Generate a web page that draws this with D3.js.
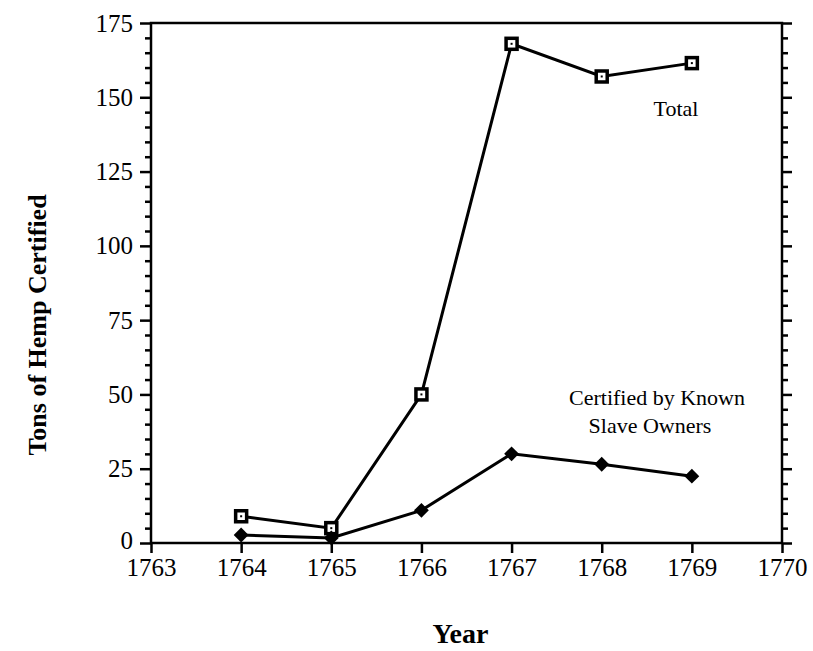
<!DOCTYPE html>
<html>
<head>
<meta charset="utf-8">
<script src="https://cdn.jsdelivr.net/npm/d3@7"></script>
<style>
  body { margin: 0; background: #fff; }
  text { font-family: "Liberation Serif", "Times New Roman", serif; fill: #000; }
</style>
</head>
<body>
<div id="vis"></div>
<script>
// data
const years = [1764, 1765, 1766, 1767, 1768, 1769]
const totalTons = [9, 5, 50, 168, 157, 161.5]
const slaveOwnerTons = [2.7, 1.7, 11, 30, 26.5, 22.5]
const yTicks = [0, 25, 50, 75, 100, 125, 150, 175]
const xTicks = [1763, 1764, 1765, 1766, 1767, 1768, 1769, 1770]

const W = 813, H = 651
const margin = { top: 23, right: 31, bottom: 108, left: 151 }
const width = W - margin.left - margin.right
const height = H - margin.top - margin.bottom

const svg = d3.select('#vis').append('svg')
  .attr('width', W).attr('height', H)
  .append('g')
  .attr('transform', `translate(${margin.left},${margin.top})`)

const x = d3.scaleLinear().domain([1763, 1770]).range([0, width])
const y = d3.scaleLinear().domain([0, 175]).range([height, 0])

// frame
svg.append('rect').attr('width', width).attr('height', height)
  .attr('fill', 'none').attr('stroke', '#000').attr('stroke-width', 2.5)

// minor ticks every 5
const minor = d3.range(0, 176, 5).filter(v => v % 25 !== 0)
svg.append('g').call(d3.axisLeft(y).tickValues(minor).tickSize(6).tickFormat(''))
  .call(g => g.select('.domain').remove())
  .selectAll('line').attr('stroke-width', 2.5)
svg.append('g').attr('transform', `translate(${width},0)`)
  .call(d3.axisRight(y).tickValues(minor).tickSize(6).tickFormat(''))
  .call(g => g.select('.domain').remove())
  .selectAll('line').attr('stroke-width', 2.5)

// major ticks
const yAxis = svg.append('g').call(d3.axisLeft(y).tickValues(yTicks).tickSize(11).tickPadding(7))
yAxis.select('.domain').remove()
yAxis.selectAll('line').attr('stroke-width', 2.5)
yAxis.selectAll('text').style('font-size', '25px').style('font-family', '"Liberation Serif", serif')
  .attr('dy', d => d === 0 ? '0.2em' : '0.32em')

const yRight = svg.append('g').attr('transform', `translate(${width},0)`)
  .call(d3.axisRight(y).tickValues(yTicks).tickSize(10).tickFormat(''))
yRight.select('.domain').remove()
yRight.selectAll('line').attr('stroke-width', 2.5)

const xAxis = svg.append('g').attr('transform', `translate(0,${height})`)
  .call(d3.axisBottom(x).tickValues(xTicks).tickSize(10).tickPadding(5).tickFormat(d3.format('d')))
xAxis.select('.domain').remove()
xAxis.selectAll('line').attr('stroke-width', 2.5)
xAxis.selectAll('text').style('font-size', '25px').style('font-family', '"Liberation Serif", serif')

// lines
const line = d3.line().x(d => x(d[0])).y(d => y(d[1]))
const totalPts = years.map((yr, i) => [yr, totalTons[i]])
const slavePts = years.map((yr, i) => [yr, slaveOwnerTons[i]])

svg.append('path').datum(totalPts).attr('d', line)
  .attr('fill', 'none').attr('stroke', '#000').attr('stroke-width', 3)
svg.append('path').datum(slavePts).attr('d', line)
  .attr('fill', 'none').attr('stroke', '#000').attr('stroke-width', 3)

// markers
svg.selectAll('.sq').data(totalPts).join('rect')
  .attr('class', 'sq')
  .attr('x', d => x(d[0]) - 5.5).attr('y', d => y(d[1]) - 5.5)
  .attr('width', 11).attr('height', 11)
  .attr('fill', '#fff').attr('stroke', '#000').attr('stroke-width', 3.5)
svg.selectAll('.dot').data(totalPts).join('rect')
  .attr('class', 'dot')
  .attr('x', d => x(d[0]) - 1).attr('y', d => y(d[1]) - 1)
  .attr('width', 2).attr('height', 2).attr('fill', '#000')

svg.selectAll('.dia').data(slavePts).join('path')
  .attr('class', 'dia')
  .attr('transform', d => `translate(${x(d[0])},${y(d[1])})`)
  .attr('d', d3.symbol().type(d3.symbolDiamond2).size(140))
  .attr('fill', '#000')

// labels
svg.append('text').attr('x', 676 - margin.left).attr('y', 116 - margin.top)
  .attr('text-anchor', 'middle').style('font-size', '22px').text('Total')
svg.append('text').attr('x', 657 - margin.left).attr('y', 405 - margin.top)
  .attr('text-anchor', 'middle').style('font-size', '22px').text('Certified by Known')
svg.append('text').attr('x', 650 - margin.left).attr('y', 433 - margin.top)
  .attr('text-anchor', 'middle').style('font-size', '22px').text('Slave Owners')

svg.append('text').attr('x', width / 2 - 6).attr('y', height + 100)
  .attr('text-anchor', 'middle').style('font-size', '28px').style('font-weight', 'bold')
  .text('Year')
svg.append('text').attr('transform', 'rotate(-90)')
  .attr('x', -(325 - margin.top)).attr('y', 46 - margin.left)
  .attr('text-anchor', 'middle').style('font-size', '26px').style('font-weight', 'bold')
  .text('Tons of Hemp Certified')
</script>
</body>
</html>
